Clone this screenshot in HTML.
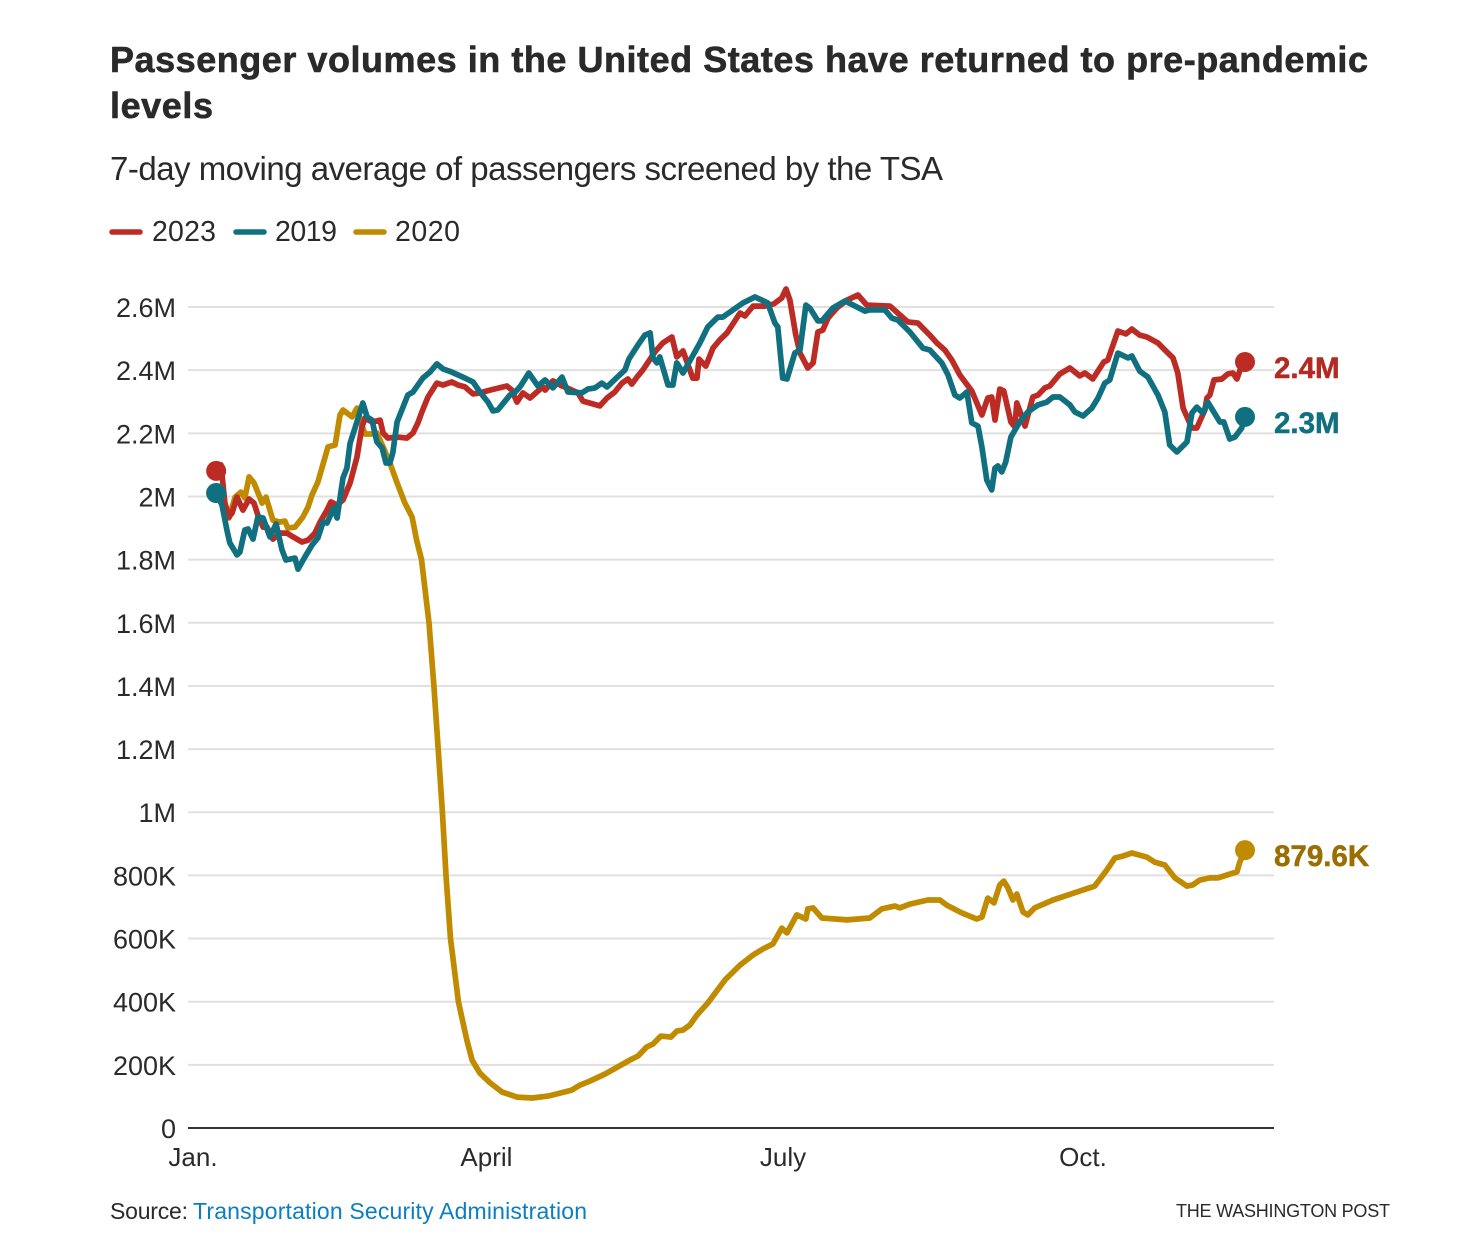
<!DOCTYPE html>
<html lang="en">
<head>
<meta charset="utf-8">
<title>Passenger volumes in the United States</title>
<style>
  html, body { margin: 0; padding: 0; background: #fff; }
  svg { display: block; }
  text { font-family: "Liberation Sans", sans-serif; fill: #2a2a2a; }
</style>
</head>
<body>
<svg id="chart" xmlns="http://www.w3.org/2000/svg" width="1468" height="1240" viewBox="0 0 1468 1240">
  <text x="110" y="72" font-size="36" font-weight="700" stroke="#2a2a2a" stroke-width="0.6" textLength="1258" lengthAdjust="spacing">Passenger volumes in the United States have returned to pre-pandemic</text>
  <text x="110" y="118" font-size="36" font-weight="700" stroke="#2a2a2a" stroke-width="0.6" textLength="103" lengthAdjust="spacing">levels</text>
  <text x="110" y="180" font-size="33" textLength="833" lengthAdjust="spacing">7-day moving average of passengers screened by the TSA</text>

  <g>
    <g>
      <line x1="112" x2="140" y1="232" y2="232" stroke="#bc2c25" stroke-width="5.5" stroke-linecap="round"/>
      <text x="152" y="241" font-size="28.5" textLength="64" lengthAdjust="spacing">2023</text>
    </g>
    <g>
      <line x1="236" x2="264" y1="232" y2="232" stroke="#10707f" stroke-width="5.5" stroke-linecap="round"/>
      <text x="275" y="241" font-size="28.5" textLength="62" lengthAdjust="spacing">2019</text>
    </g>
    <g>
      <line x1="356" x2="384" y1="232" y2="232" stroke="#c08b00" stroke-width="5.5" stroke-linecap="round"/>
      <text x="395" y="241" font-size="28.5" textLength="65" lengthAdjust="spacing">2020</text>
    </g>
  </g>

  <g id="grid"></g>
  <g id="yticks"></g>
  <g id="xticks"></g>
  <g id="series"></g>
  <g id="labels"></g>

  <text x="110" y="1219" font-size="23" textLength="78" lengthAdjust="spacing">Source:</text>
  <text x="193" y="1219" font-size="23" style="fill:#0a7ec2;cursor:pointer" textLength="394" lengthAdjust="spacing">Transportation Security Administration</text>
  <text x="1176" y="1217" font-size="18" textLength="214" lengthAdjust="spacing">THE WASHINGTON POST</text>
</svg>

<script>
// Y axis ticks (passengers, thousands) and their labels
var tickValues = [0, 200, 400, 600, 800, 1000, 1200, 1400, 1600, 1800, 2000, 2200, 2400, 2600];
var tickLabels = ["0", "200K", "400K", "600K", "800K", "1M", "1.2M", "1.4M", "1.6M", "1.8M", "2M", "2.2M", "2.4M", "2.6M"];

// X axis: day of year and label
var monthDays = [0, 90, 181, 273];
var monthLabels = ["Jan.", "April", "July", "Oct."];

// 2023 series
var days2023 = [7.1,8.6,9.8,11,12,13.5,15.3,17.2,18.7,19.9,21.5,22.7,24.5,26.7,28.8,30.7,33.4,35.3,37.4,39,41.1,42.3,44.2,46,48.2,50.3,51.8,52.8,54.9,57.4,58.3,59.8,62.6,65.6,67.5,69,70.2,72.1,74.8,76.7,79.4,81.3,83.4,85.9,88,91.1,96.3,97.8,99.4,101.2,103.4,105.5,107.3,108,110.4,113.2,114.7,118.1,119.6,124.8,127,129.4,131.6,133.4,134.6,136.2,138,141.7,144.1,146.9,148.4,150.3,153.3,154.6,155.2,157.3,159.5,161.6,163.8,167.8,169.3,171.8,175.4,178.2,180.6,181.9,183.1,184.9,186.2,188.6,190.2,191.7,193.2,194.8,197.5,200.6,204,206.7,213.8,216.8,219.3,222.4,226,228.2,230.6,232.8,235.2,236.8,238.9,242,243.8,245,246,247.5,248.7,250.9,252.1,252.7,254.3,255.2,257.6,259.2,261.3,262.8,265.9,269,272,273.6,276,278.2,279.4,280.6,283.7,286.2,288,290.4,292.6,296,298.7,300.6,302.1,303.7,306.4,307.9,310.4,311,311.9,313.2,315.6,317.4,319,320.2,321.4,322.7];
var values2023 = [2081,2100,1979,1935,1948,1998,1957,1992,1979,1941,1903,1903,1865,1884,1884,1872,1856,1862,1884,1919,1957,1983,1973,1989,2043,2125,2220,2249,2236,2242,2201,2185,2188,2185,2201,2233,2268,2315,2359,2353,2363,2353,2347,2325,2328,2337,2350,2337,2299,2328,2312,2331,2347,2337,2366,2350,2344,2328,2302,2287,2312,2331,2359,2372,2356,2378,2401,2458,2486,2505,2442,2461,2375,2375,2435,2413,2470,2496,2518,2581,2572,2603,2603,2610,2629,2657,2622,2511,2454,2407,2423,2521,2527,2565,2597,2622,2638,2606,2603,2575,2553,2549,2511,2486,2464,2432,2385,2363,2334,2258,2312,2315,2242,2340,2334,2236,2220,2296,2252,2223,2315,2321,2344,2350,2388,2407,2382,2391,2372,2407,2426,2432,2524,2515,2530,2511,2505,2486,2458,2439,2391,2280,2217,2217,2274,2312,2321,2369,2372,2388,2391,2372,2407,2426];

// 2019 series
var days2019 = [7.1,8.9,10.4,11.3,13.5,14.4,15.9,16.9,18.4,19.9,21.5,23.6,25.5,27.3,28.5,31.3,32.2,34.3,36.5,38.3,39.9,41.1,43.2,44.2,46,47.2,48.2,49.7,52.1,53.4,54.9,56.4,58,59.2,60.4,61.3,62.6,65.9,67.5,70.5,72.7,74.8,76.7,79.4,82.8,85.9,88,90.5,92,93.5,97.2,98.8,100.3,103,105.8,108,110.4,113.2,115,119.3,121.1,123.3,125.4,127,132.5,133.7,136.5,138.6,140.2,141.1,142.3,143.2,145.7,147.2,148.4,150.3,155.5,157.9,161,162.5,168.7,172.4,176.3,178.5,179.4,180.9,182.2,184.6,186.2,188,189.2,191.7,192.9,196.3,200,206.1,207.6,212.2,214.4,216.2,219.9,223.9,226,229.7,231.6,233.7,235.2,237.4,238.9,240.8,242,243.5,245,246,246.9,248.1,249.3,250.9,253.6,256.1,259.2,261.9,263.8,265.9,269,270.5,273,275.7,277.6,279.7,281.2,283.7,286.8,288,290.4,292.9,296,298.1,299.6,301.8,304.9,306.4,307.9,309.8,311.3,315,316.2,318,319.6,321.7,322.7];
var values2019 = [2011,1973,1894,1853,1815,1824,1894,1897,1865,1935,1932,1872,1913,1831,1799,1805,1770,1808,1846,1869,1919,1916,1964,1932,2059,2090,2169,2217,2296,2252,2242,2173,2154,2106,2106,2138,2236,2321,2331,2375,2394,2420,2404,2394,2378,2363,2331,2299,2271,2274,2321,2331,2347,2391,2350,2369,2344,2378,2331,2328,2340,2344,2359,2347,2401,2435,2480,2511,2518,2439,2423,2442,2353,2353,2423,2391,2486,2537,2568,2568,2613,2632,2613,2549,2537,2375,2372,2454,2464,2606,2597,2556,2556,2597,2619,2587,2591,2591,2565,2559,2521,2470,2464,2423,2385,2321,2312,2331,2233,2223,2157,2052,2021,2090,2097,2078,2109,2188,2236,2268,2290,2299,2315,2315,2290,2268,2255,2280,2312,2359,2369,2454,2439,2445,2397,2378,2321,2268,2163,2141,2173,2264,2283,2264,2299,2236,2236,2182,2188,2217,2252];

// 2020 series
var days2020 = [7.1,11,12.9,14.7,15.9,17.2,18.7,21.2,22.4,24.5,26.7,28.2,29.1,31.3,33.7,35.3,36.5,38.3,41.4,43.6,45.1,46,48.8,50.3,52.1,52.8,54.9,56.4,58.3,60.4,62.6,65,67.2,68.6,70.1,72.4,73.9,75.2,76.5,77.6,79,81.4,84,85.6,88,91.1,94.8,99.4,104,108.9,116.2,118.7,121.8,126.4,134,136.5,139.2,141.1,143.5,146.6,148.4,150.3,152.4,154.6,157.9,163.2,167.8,171.8,174.8,177.9,180.6,182.2,185.2,188,188.6,190.2,192.9,200.6,207.6,211.3,215.3,216.8,219.9,225.4,229.1,231.2,235.9,240.4,242,243.8,245.7,247.5,248.7,250,251.5,252.7,254.6,256.1,258.2,263.8,271.1,276.6,280.3,282.8,285.2,288,292.6,295,298.1,301.2,304.9,306.7,308.8,311.9,314.4,320.2,321.1,322.7];
var values2020 = [2011,1932,1998,2014,1995,2062,2043,1979,1998,1925,1919,1922,1900,1903,1935,1967,2005,2046,2157,2163,2258,2274,2252,2280,2217,2198,2198,2201,2157,2106,2043,1979,1935,1862,1800,1600,1400,1200,1000,800,600,400,279,215,174,143,114,98,95,101,120,136,149,171,215,228,257,266,291,288,307,310,326,358,396,469,516,548,567,583,633,618,675,662,694,697,665,659,665,694,703,697,709,722,722,706,681,662,668,728,713,770,782,760,722,741,684,675,697,722,747,766,817,855,861,871,858,842,833,792,766,770,785,792,792,811,842,880];

// End-of-line printed values
var endLabel2023 = "2.4M";
var endLabel2019 = "2.3M";
var endLabel2020 = "879.6K";

var NS = "http://www.w3.org/2000/svg";

function xScale(day) {
  return 193 + day * 3.26;
}
function yScale(value) {
  return 1128 - value / 3.167;
}
function make(tag, parentId) {
  var el = document.createElementNS(NS, tag);
  document.getElementById(parentId).appendChild(el);
  return el;
}

tickValues.forEach(function (value, i) {
  var line = make("line", "grid");
  
  
  line.setAttribute("x1", 188);
  line.setAttribute("x2", 1274);
  line.setAttribute("y1", yScale(value));
  line.setAttribute("y2", yScale(value));
  line.setAttribute("stroke", value === 0 ? "#333333" : "#e0e0e0");
  line.setAttribute("stroke-width", 2);

  var label = make("text", "yticks");
  
  
  label.setAttribute("x", 176);
  label.setAttribute("y", yScale(value) + 10);
  label.setAttribute("text-anchor", "end");
  label.setAttribute("font-size", 27);
  label.textContent = tickLabels[i];
});

monthDays.forEach(function (day, i) {
  var label = make("text", "xticks");
  
  
  label.setAttribute("x", xScale(day));
  label.setAttribute("y", 1166);
  label.setAttribute("text-anchor", "middle");
  label.setAttribute("font-size", 26);
  label.textContent = monthLabels[i];
});

function drawSeries(seriesName, days, values, color) {
  var d = days.map(function (day, i) {
    return (i ? "L" : "M") + xScale(day).toFixed(1) + " " + yScale(values[i]).toFixed(1);
  }).join("");
  var path = make("path", "series");
  
  
  path.setAttribute("data-series", seriesName);
  path.setAttribute("d", d);
  path.setAttribute("fill", "none");
  path.setAttribute("stroke", color);
  path.setAttribute("stroke-width", 5.7);
  path.setAttribute("stroke-linejoin", "round");
  path.setAttribute("stroke-linecap", "round");
}

function drawDots(days, values, color) {
  var first = make("circle", "series");
  
  
  first.setAttribute("cx", xScale(days[0]));
  first.setAttribute("cy", yScale(values[0]));
  first.setAttribute("r", 10);
  first.setAttribute("fill", color);
  var n = days.length - 1;
  var last = make("circle", "series");
  
  
  last.setAttribute("cx", xScale(days[n]));
  last.setAttribute("cy", yScale(values[n]));
  last.setAttribute("r", 10);
  last.setAttribute("fill", color);
}

function drawLabel(text, days, values, color, dy) {
  var n = days.length - 1;
  var label = make("text", "labels");
  
  
  label.setAttribute("x", 1274);
  label.setAttribute("y", yScale(values[n]) + dy);
  label.setAttribute("font-size", 29.5);
  label.setAttribute("font-weight", "700");
  label.setAttribute("stroke", color);
  label.setAttribute("stroke-width", 0.5);
  label.setAttribute("style", "fill:" + color);
  label.textContent = text;
}

drawSeries("2020", days2020, values2020, "#c08b00");
drawSeries("2023", days2023, values2023, "#bc2c25");
drawSeries("2019", days2019, values2019, "#10707f");

// Dots: 2020 has its start hidden beneath 2019's, drawn in the same order as the lines
drawDots(days2020, values2020, "#c08b00");
drawDots(days2023, values2023, "#bc2c25");
drawDots(days2019, values2019, "#10707f");

drawLabel(endLabel2023, days2023, values2023, "#b32a24", 16);
drawLabel(endLabel2019, days2019, values2019, "#10707f", 16);
drawLabel(endLabel2020, days2020, values2020, "#9a6e00", 16);
</script>
</body>
</html>
